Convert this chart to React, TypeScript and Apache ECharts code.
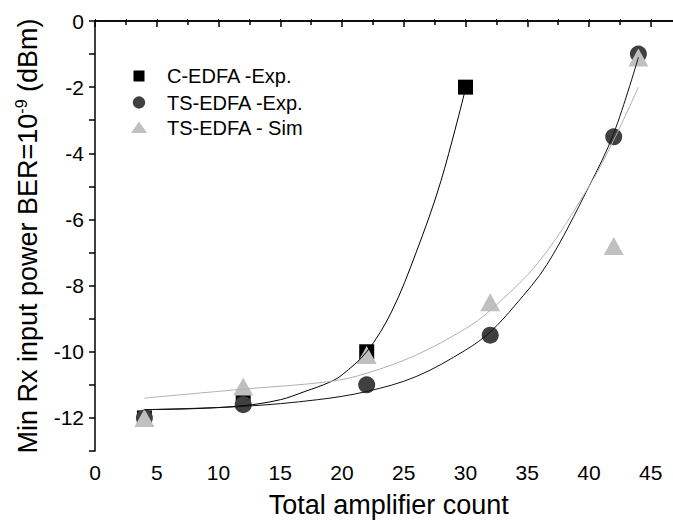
import React, { useEffect, useRef } from "react";
import * as echarts from "echarts";

const FONT = "'Liberation Sans', Arial, sans-serif";

const cEdfaExp: [number, number][] = [[4, -12], [12, -11.5], [22, -10], [30, -2]];
const tsEdfaExp: [number, number][] = [[4, -12], [12, -11.6], [22, -11], [32, -9.5], [42, -3.5], [44, -1]];
const tsEdfaSim: [number, number][] = [[4, -12], [12, -11.05], [22, -10.1], [32, -8.5], [42, -6.8], [44, -1.1]];

const cEdfaFit: [number, number][] = [[4, -11.75], [8, -11.72], [12, -11.63], [15, -11.45], [17, -11.2], [19, -10.92], [20, -10.7], [22, -10.0], [24, -8.8], [26, -7.0], [28, -4.85], [30, -2.05]];
const tsExpFit: [number, number][] = [[4, -11.75], [12, -11.65], [18, -11.45], [22, -11.2], [26, -10.75], [30, -9.95], [32, -9.4], [34, -8.6], [36.6, -7.36], [40, -5.0], [42, -3.4], [44, -1.1]];
const tsSimFit: [number, number][] = [[4, -11.4], [12, -11.13], [19, -10.9], [22, -10.65], [26, -10.1], [30, -9.3], [32, -8.75], [36, -7.25], [40, -5.0], [42, -3.6], [44, -2.0]];

const legendNames = ["C-EDFA -Exp.", "TS-EDFA -Exp.", "TS-EDFA - Sim"];
const xTitle = "Total amplifier count";
const yTitle = "Min Rx input power BER=10{sup|-9} (dBm)";

export default function App() {
  const ref = useRef<HTMLDivElement>(null);
  useEffect(() => {
    if (!ref.current) return;
    const chart = echarts.init(ref.current, null, { renderer: "svg" });
    const axisLine = { show: true, lineStyle: { color: "#000", width: 1.5 } };
    chart.setOption({
      animation: false,
      backgroundColor: "#fff",
      grid: { left: 95, top: 21, width: 617.5, height: 434, containLabel: false },
      xAxis: [
        {
          type: "value", position: "bottom", min: 0, max: 50, interval: 5,
          axisLine, splitLine: { show: false },
          axisTick: { show: true, length: 6, lineStyle: { color: "#000", width: 1.5 } },
          minorTick: { show: true, splitNumber: 2, length: 4, lineStyle: { color: "#000", width: 1.5 } },
          axisLabel: { fontFamily: FONT, fontSize: 21, color: "#000", margin: 11,
            formatter: (v: number) => (v % 5 === 0 && v <= 45 ? String(v) : "") },
          name: xTitle, nameLocation: "middle", nameGap: 40,
          nameTextStyle: { fontFamily: FONT, fontSize: 27, color: "#000", padding: [0, 30, 0, 0] },
        },
        {
          type: "value", position: "top", min: 0, max: 50, interval: 2.5,
          axisLine, splitLine: { show: false },
          axisTick: { show: true, length: 2, lineStyle: { color: "#000", width: 1 } },
          axisLabel: { show: false },
        },
      ],
      yAxis: {
        type: "value", min: -13, max: 0, interval: 1,
        axisLine, splitLine: { show: false },
        axisTick: { show: true, length: 6, lineStyle: { color: "#000", width: 1.5 } },
        axisLabel: { fontFamily: FONT, fontSize: 21, color: "#000", margin: 11,
          formatter: (v: number) => (Math.round(v) % 2 === 0 ? String(v) : "") },
        name: yTitle, nameLocation: "middle", nameGap: 52,
        nameTextStyle: { fontFamily: FONT, fontSize: 27, color: "#000",
          rich: { sup: { fontFamily: FONT, fontSize: 16, color: "#000", verticalAlign: "top", lineHeight: 30 } } },
      },
      series: [
        { type: "scatter", name: legendNames[0], data: cEdfaExp, symbol: "rect", symbolSize: 15, itemStyle: { color: "#000", opacity: 1 }, z: 2 },
        { type: "scatter", name: legendNames[1], data: tsEdfaExp, symbol: "circle", symbolSize: 17, itemStyle: { color: "#404040", opacity: 1 }, z: 3 },
        { type: "scatter", name: legendNames[2], data: tsEdfaSim, symbol: "triangle", symbolSize: [20, 18], itemStyle: { color: "#c0c0c0", opacity: 1 }, z: 4 },
        { type: "line", data: cEdfaFit, smooth: 0.35, showSymbol: false, lineStyle: { color: "#000", width: 1 }, z: 5 },
        { type: "line", data: tsExpFit, smooth: 0.35, showSymbol: false, lineStyle: { color: "#111", width: 1 }, z: 5 },
        { type: "line", data: tsSimFit, smooth: 0.35, showSymbol: false, lineStyle: { color: "#b0b0b0", width: 1 }, z: 5 },
      ],
      graphic: [
        { type: "rect", shape: { x: 133.5, y: 70.5, width: 11, height: 11 }, style: { fill: "#000" } },
        { type: "circle", shape: { cx: 139, cy: 102.5, r: 6.2 }, style: { fill: "#404040" } },
        { type: "polygon", shape: { points: [[131, 133], [147, 133], [139, 121.5]] }, style: { fill: "#c0c0c0" } },
        { type: "text", x: 167, y: 76, style: { text: legendNames[0], font: `20px ${FONT}`, fill: "#000", verticalAlign: "middle" } },
        { type: "text", x: 167, y: 102.5, style: { text: legendNames[1], font: `20px ${FONT}`, fill: "#000", verticalAlign: "middle" } },
        { type: "text", x: 167, y: 128, style: { text: legendNames[2], font: `20px ${FONT}`, fill: "#000", verticalAlign: "middle" } },
      ],
    });
    return () => chart.dispose();
  }, []);
  return (
    <div style={{ width: 673, height: 523, position: "absolute", left: 0, top: 0, overflow: "hidden", background: "#fff" }}>
      <div ref={ref} style={{ width: 760, height: 523 }} />
    </div>
  );
}
